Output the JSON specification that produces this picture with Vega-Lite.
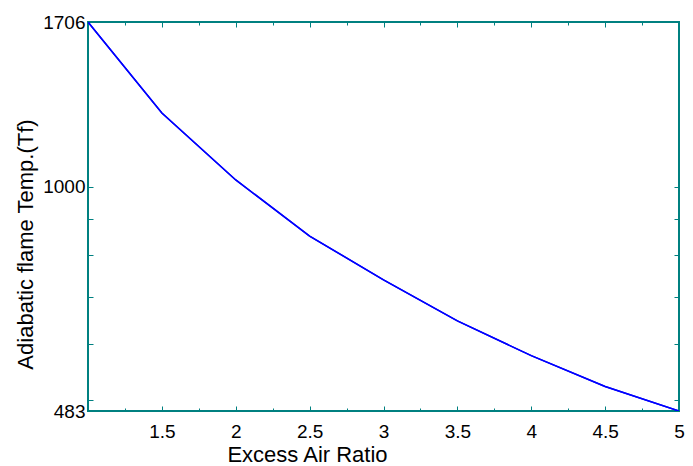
{
  "$schema": "https://vega.github.io/schema/vega-lite/v6.json",
  "width": 591,
  "height": 389,
  "autosize": {"type": "none"},
  "padding": {"left": 88, "top": 22, "right": 14, "bottom": 55},
  "background": "white",
  "config": {
    "view": {"stroke": "#008080", "strokeWidth": 2},
    "axis": {
      "domain": false,
      "grid": false,
      "labelFont": "Liberation Sans",
      "labelFontSize": 19,
      "labelColor": "black",
      "titleFont": "Liberation Sans",
      "titleFontSize": 22,
      "titleFontWeight": "normal",
      "titleColor": "black",
      "tickColor": "#008080",
      "tickWidth": 1,
      "labelOverlap": false,
      "labelFlush": false
    }
  },
  "data": {
    "values": [
      {"ratio": 1.0, "temp": 1706},
      {"ratio": 1.5, "temp": 1270},
      {"ratio": 2.0, "temp": 1022},
      {"ratio": 2.5, "temp": 852},
      {"ratio": 3.0, "temp": 739},
      {"ratio": 3.5, "temp": 647},
      {"ratio": 4.0, "temp": 578},
      {"ratio": 4.5, "temp": 523},
      {"ratio": 5.0, "temp": 483}
    ]
  },
  "layer": [
    {
      "mark": {"type": "line", "color": "#0000ff", "strokeWidth": 1.5, "clip": true},
      "encoding": {
        "x": {
          "field": "ratio",
          "type": "quantitative",
          "scale": {"domain": [1, 5], "nice": false, "zero": false},
          "axis": {
            "orient": "bottom",
            "title": "Excess Air Ratio",
            "values": [1.25, 1.5, 1.75, 2, 2.25, 2.5, 2.75, 3, 3.25, 3.5, 3.75, 4, 4.25, 4.5, 4.75, 5],
            "labelExpr": "(datum.value * 2) % 1 === 0 && datum.value > 1 ? format(datum.value, '~g') : ''",
            "tickSize": {"condition": {"test": "(datum.value * 2) % 1 === 0", "value": -5}, "value": -3},
            "labelPadding": 16,
            "titleX": 219,
            "titleY": 50,
            "titleAnchor": "middle",
            "titleAlign": "center",
            "titleBaseline": "alphabetic"
          }
        },
        "y": {
          "field": "temp",
          "type": "quantitative",
          "scale": {"type": "log", "domain": [483, 1706], "nice": false, "zero": false},
          "axis": {
            "orient": "left",
            "title": "Adiabatic flame Temp.(Tf)",
            "values": [483, 500, 600, 700, 800, 900, 1000, 1706],
            "labelExpr": "datum.value == 483 || datum.value == 1000 || datum.value == 1706 ? format(datum.value, 'd') : ''",
            "tickSize": -5,
            "labelPadding": 8,
            "labelBaseline": "middle",
            "titleAngle": -90,
            "titleX": -63,
            "titleY": 222,
            "titleAnchor": "middle",
            "titleAlign": "center",
            "titleBaseline": "middle"
          }
        }
      }
    },
    {
      "mark": {"type": "line", "color": "#0000ff", "strokeWidth": 1.5, "clip": true},
      "encoding": {
        "x": {
          "field": "ratio",
          "type": "quantitative",
          "scale": {"domain": [1, 5], "nice": false, "zero": false},
          "axis": {
            "orient": "top",
            "title": null,
            "labels": false,
            "values": [1.25, 1.5, 1.75, 2, 2.25, 2.5, 2.75, 3, 3.25, 3.5, 3.75, 4, 4.25, 4.5, 4.75, 5],
            "tickSize": {"condition": {"test": "(datum.value * 2) % 1 === 0", "value": -5}, "value": -3}
          }
        },
        "y": {
          "field": "temp",
          "type": "quantitative",
          "scale": {"type": "log", "domain": [483, 1706], "nice": false, "zero": false},
          "axis": {
            "orient": "right",
            "title": null,
            "labels": false,
            "values": [483, 500, 600, 700, 800, 900, 1000, 1706],
            "tickSize": -5
          }
        }
      }
    }
  ],
  "resolve": {"axis": {"x": "independent", "y": "independent"}}
}
